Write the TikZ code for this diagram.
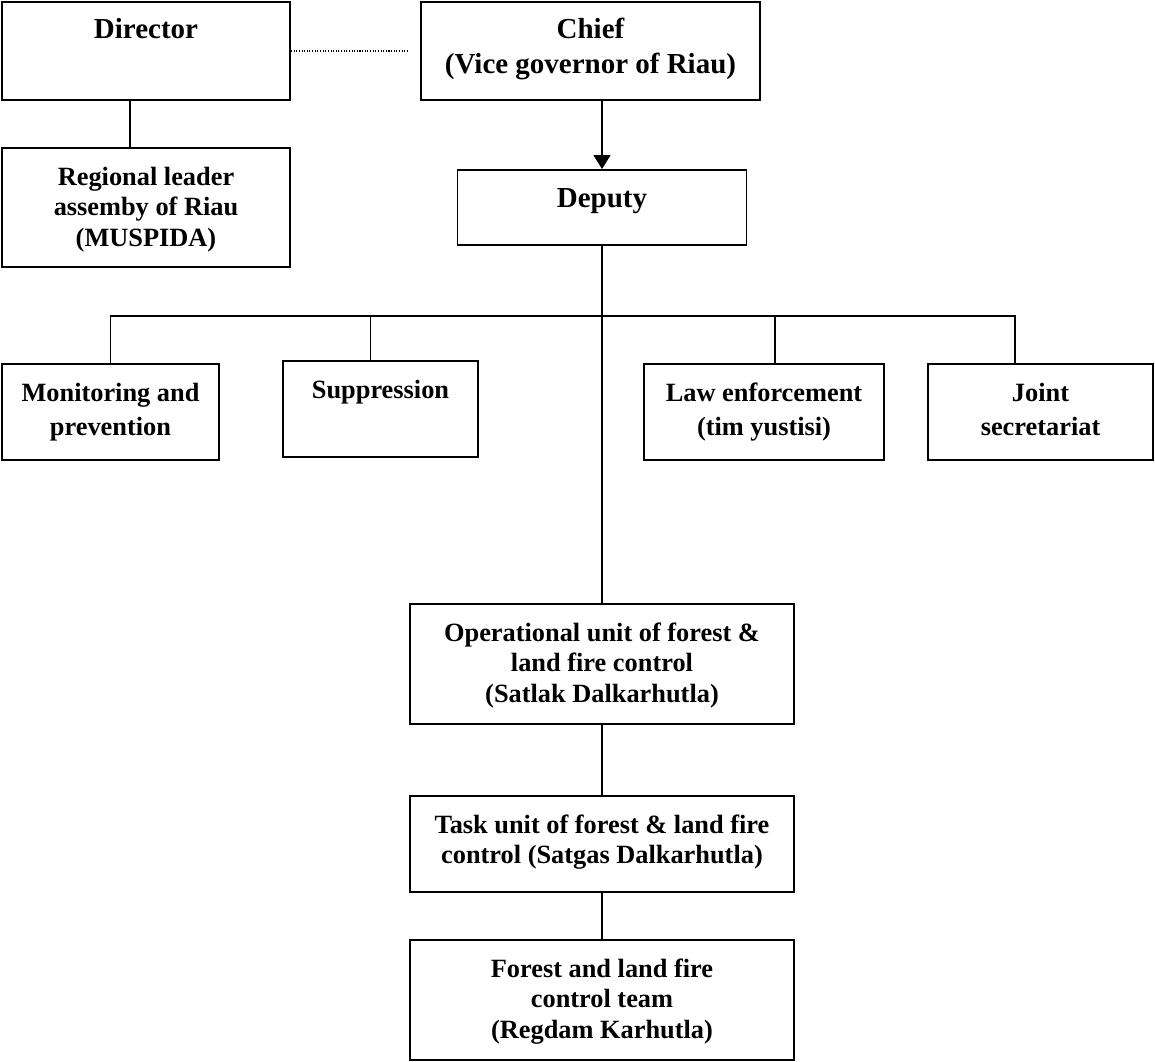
\documentclass[tikz,border=0pt]{standalone}
\usepackage{fontspec}
\setmainfont{Liberation Serif}
\usetikzlibrary{arrows.meta}

\newlength{\px}
\setlength{\px}{0.02cm}
\newcommand{\gross}{\fontsize{16.5}{19.5}\selectfont\bfseries}
\newcommand{\klein}{\fontsize{15}{17.4}\selectfont\bfseries}
\newcommand{\weit}{\fontsize{15}{19.6}\selectfont\bfseries}
% Text oben im Kasten, zentriert
\newcommand{\feld}[3]{\parbox[c][#2\px][t]{#1\px}{\centering\rule{0pt}{37\px}#3}}

\tikzset{
	kasten/.style={draw=black, line width=1.1pt, inner sep=0pt, font=\klein},
	linie/.style={line width=0.9pt}
}

\begin{document}
\begin{tikzpicture}[x=0.02cm, y=-0.02cm]
	\useasboundingbox (0,0) rectangle (1155,1061);

	% Leitung oben
	\node[kasten, font=\gross] (dir) at (146,51) {\feld{288}{98}{Director}};
	\node[kasten] (reg) at (146,207.5) {\feld{288}{119}{Regional leader\\ assemby of Riau\\ (MUSPIDA)}};
	\node[kasten, font=\gross] (chief) at (590.5,51) {\feld{339}{98}{Chief\\ (Vice governor of Riau)}};
	\node[kasten, font=\gross] (deputy) at (602,207.5) {\feld{289}{75}{Deputy}};

	% Abteilungen
	\node[kasten, font=\weit] (mon) at (110.5,412) {\feld{217}{96}{Monitoring and\\ prevention}};
	\node[kasten, font=\weit] (sup) at (380.5,409) {\feld{195}{96}{Suppression}};
	\node[kasten, font=\weit] (law) at (764,412) {\feld{240}{96}{Law enforcement\\ (tim yustisi)}};
	\node[kasten, font=\weit] (joint) at (1040.5,412) {\feld{225}{96}{Joint\\ secretariat}};

	% Einheiten unten
	\node[kasten] (op) at (602,664) {\feld{384}{120}{Operational unit of forest \&\\ land fire control\\ (Satlak Dalkarhutla)}};
	\node[kasten] (task) at (602,844) {\feld{384}{96}{Task unit of forest \& land fire\\ control (Satgas Dalkarhutla)}};
	\node[kasten] (team) at (602,1000) {\feld{384}{120}{Forest and land fire\\ control team\\ (Regdam Karhutla)}};

	% Verbindungen
	\draw[line width=0.6pt, dash pattern=on 0.6pt off 0.9pt] (dir.east) -- ([xshift=-0.22cm]chief.west);
	\draw[linie] ([xshift=-0.32cm]dir.south) -- ([xshift=-0.32cm]reg.north);
	\draw[linie, -{Triangle[length=0.28cm, width=0.34cm]}] (chief.south -| deputy.north) -- (deputy.north);
	\draw[linie] (deputy) -- (op);
	\coordinate (schiene) at (602,316);
	\draw[linie] (mon.north) |- (schiene) -| ([xshift=-0.51cm]joint.north);
	\draw[linie] ([xshift=-0.2cm]sup.north) -- ([xshift=-0.2cm]sup.north |- schiene);
	\draw[linie] ([xshift=0.22cm]law.north) -- ([xshift=0.22cm]law.north |- schiene);
	\draw[linie] (op) -- (task);
	\draw[linie] (task) -- (team);
\end{tikzpicture}
\end{document}
